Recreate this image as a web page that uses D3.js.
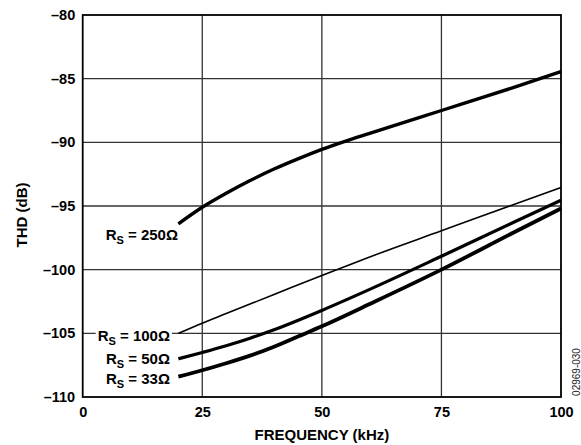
<!DOCTYPE html>
<html>
<head>
<meta charset="utf-8">
<script src="https://cdn.jsdelivr.net/npm/d3@7"></script>
<style>
  body { margin: 0; background: #fff; }
  svg { display: block; font-family: "Liberation Sans", Arial, sans-serif; }
</style>
</head>
<body>
<div id="chart"></div>
<script>
// values (frequency kHz, THD dB)
var xTicks = [0, 25, 50, 75, 100];
var yTicks = [-80, -85, -90, -95, -100, -105, -110];

var rs250 = [[20, -96.4], [25, -95.1], [30, -94.0], [35, -93.0], [40, -92.1], [45, -91.3],
             [50, -90.55], [55, -89.9], [60, -89.3], [70, -88.1], [80, -86.9], [90, -85.7], [100, -84.45]];
var rs100 = [[20, -105.0], [25, -104.2], [30, -103.45], [40, -101.95], [50, -100.45],
             [60, -99.0], [75, -96.95], [90, -94.9], [100, -93.55]];
var rs50 = [[20, -107.0], [25, -106.5], [30, -105.97], [35, -105.38], [40, -104.72], [50, -103.2],
            [60, -101.55], [75, -98.95], [90, -96.3], [100, -94.55]];
var rs33 = [[20, -108.4], [25, -107.9], [30, -107.35], [35, -106.75], [40, -106.05], [45, -105.25],
            [50, -104.45], [60, -102.7], [75, -100.0], [90, -97.1], [100, -95.2]];

var seriesNames = ["250", "100", "50", "33"];
var seriesData = [rs250, rs100, rs50, rs33];

function chart() {
  var svgWidth = 581, svgHeight = 445,
      left = 82.7, right = 561, top = 15, bottom = 397;

  var x = d3.scaleLinear([0, 100], [left, right]),
      y = d3.scaleLinear([-110, -80], [bottom, top]);

  var svg = d3.select("#chart").append("svg")
      .attr("width", svgWidth)
      .attr("height", svgHeight);

  // grid
  svg.append("g").selectAll("line.h").data(yTicks.slice(1, -1))
    .join("line")
      .attr("x1", left).attr("x2", right)
      .attr("y1", d => y(d)).attr("y2", d => y(d))
      .attr("stroke", "#333").attr("stroke-width", 1.3);
  svg.append("g").selectAll("line.v").data(xTicks.slice(1, -1))
    .join("line")
      .attr("y1", top).attr("y2", bottom)
      .attr("x1", d => x(d)).attr("x2", d => x(d))
      .attr("stroke", "#333").attr("stroke-width", 1.3);

  // frame
  svg.append("rect")
      .attr("x", left).attr("y", top)
      .attr("width", right - left).attr("height", bottom - top)
      .attr("fill", "none").attr("stroke", "#000").attr("stroke-width", 1.8);

  // axes
  var fmt = d => (d < 0 ? "\u2013" : "") + Math.abs(d);
  var yAxis = svg.append("g")
      .attr("transform", "translate(" + left + ",0)")
      .call(d3.axisLeft(y).tickValues(yTicks).tickSize(0).tickPadding(7.5).tickFormat(fmt));
  var xAxis = svg.append("g")
      .attr("transform", "translate(0," + bottom + ")")
      .call(d3.axisBottom(x).tickValues(xTicks).tickSize(0).tickPadding(10));
  [xAxis, yAxis].forEach(function(a) {
    a.select(".domain").remove();
    a.selectAll("text")
      .attr("fill", "#000")
      .style("font-size", "14.5px")
      .style("font-weight", "bold")
      .style("font-family", "'Liberation Sans', Arial, sans-serif");
  });

  // axis titles
  svg.append("text")
      .attr("x", (left + right) / 2).attr("y", 440)
      .attr("text-anchor", "middle")
      .style("font-size", "15px").style("font-weight", "bold")
      .text("FREQUENCY (kHz)");
  svg.append("text")
      .attr("transform", "translate(26.5,215) rotate(-90)")
      .attr("text-anchor", "middle")
      .style("font-size", "15px").style("font-weight", "bold")
      .text("THD (dB)");

  svg.append("text")
      .attr("transform", "translate(579.5,372) rotate(-90)")
      .attr("text-anchor", "middle")
      .style("font-size", "10px").attr("fill", "#222")
      .text("02969-030");

  // curves
  var line = d3.line()
      .x(d => x(d[0]))
      .y(d => y(d[1]))
      .curve(d3.curveMonotoneX);
  var widths = [3.4, 1.6, 3.2, 3.8];
  svg.append("g").selectAll("path").data(seriesData)
    .join("path")
      .attr("d", d => line(d))
      .attr("fill", "none")
      .attr("stroke", "#000")
      .attr("stroke-width", (d, i) => widths[i])
      .attr("stroke-linejoin", "round");

  // labels
  var labelPos = [[178, 239.5], [170, 340.5], [170, 364], [170, 383.5]];
  seriesNames.forEach(function(name, i) {
    var g = svg.append("g");
    var t = g.append("text")
        .attr("x", labelPos[i][0]).attr("y", labelPos[i][1])
        .attr("text-anchor", "end")
        .style("font-size", "15px").style("font-weight", "bold");
    t.append("tspan").text("R");
    t.append("tspan").attr("dy", 4).style("font-size", "11px").text("S");
    t.append("tspan").attr("dy", -4).text(" = " + name + "\u03A9");
    var bb = t.node().getBBox();
    g.insert("rect", "text")
        .attr("x", bb.x - 2).attr("y", bb.y)
        .attr("width", bb.width + 4).attr("height", bb.height)
        .attr("fill", "#fff");
  });
}

chart();
</script>
</body>
</html>
